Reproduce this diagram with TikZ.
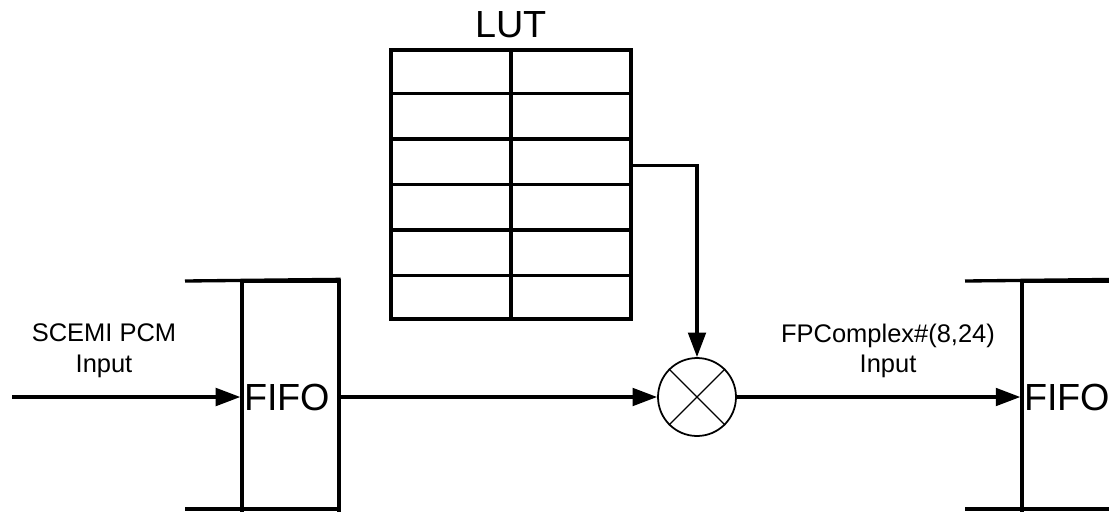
\documentclass[tikz,border=0pt]{standalone}
\usepackage{fontspec}
\setmainfont{Liberation Sans}
\usepackage{tikz}
\usetikzlibrary{calc}
\usetikzlibrary{arrows.meta}

\begin{document}
\begin{tikzpicture}[x=0.02cm,y=-0.02cm]
	 \tikzstyle{wire} = [draw,line width=1.9pt,black]
	 \tikzstyle{arrow} = [wire,-{Triangle[length=14pt,width=10pt]}]
	 \tikzstyle{fifo} = [rectangle,draw,line width=1.9pt,minimum width=1.94cm,minimum height=5.58cm,inner sep=0pt]
	 \tikzstyle{fifotext} = [anchor=west,inner sep=2pt,font=\fontsize{21.5}{25}\selectfont]
	 \tikzstyle{table} = [rectangle,draw,line width=1.9pt,minimum width=4.8cm,minimum height=5.38cm,inner sep=0pt]
	 \tikzstyle{mult} = [circle,draw,line width=1pt,minimum size=1.56cm,inner sep=0pt]
	 \tikzstyle{lbl} = [align=center,font=\fontsize{14.5}{17.5}\selectfont]
	 \useasboundingbox (0,0) rectangle (1109,511);
	 % look-up table
	 \node[table] (lut) at (511,184.5) {};
	 \node[anchor=base,font=\fontsize{21.5}{25}\selectfont] (lutlbl) at (511,37) {LUT};
	 \draw[wire] (lut.north) -- (lut.south);
	 \foreach \r in {1,...,5}
	   \draw[wire] ($(lut.north west)!\r/6!(lut.south west)$) -- ($(lut.north east)!\r/6!(lut.south east)$);
	 % multiplier
	 \node[mult] (mult) at (697,397) {};
	 \draw[line width=0.7pt] (mult.north west) -- (mult.south east);
	 \draw[line width=0.7pt] (mult.north east) -- (mult.south west);
	 % fifos
	 \node[fifo] (fifoA) at (290.5,420.5) {};
	 \node[fifotext] (fifoAtxt) at (fifoA.west |- mult) {FIFO};
	 \draw[wire] (185,281) -- (fifoA.north east);
	 \draw[wire] (185,509) -- (339,509);
	 \node[fifo] (fifoB) at (1070.5,420.5) {};
	 \node[fifotext] (fifoBtxt) at (fifoB.west |- mult) {FIFO};
	 \draw[wire] (965,281) -- (fifoB.north east);
	 \draw[wire] (965,509) -- (1119,509);
	 % data path
	 \coordinate (src) at (12,397);
	 \coordinate (tap) at ($(lut.north east)+(0,117)$);
	 \draw[arrow] (src) -- (fifoA.west |- src);
	 \draw[arrow] (fifoA.east |- mult) -- (mult.west);
	 \draw[arrow] (mult.east) -- (fifoB.west |- mult);
	 \draw[arrow] (tap) -| (mult.north);
	 \node[lbl] (inlbl) at (104,351) {SCEMI PCM\\Input};
	 \node[lbl] (outlbl) at (888,351) {FPComplex\#(8,24)\\Input};
\end{tikzpicture}
\end{document}
